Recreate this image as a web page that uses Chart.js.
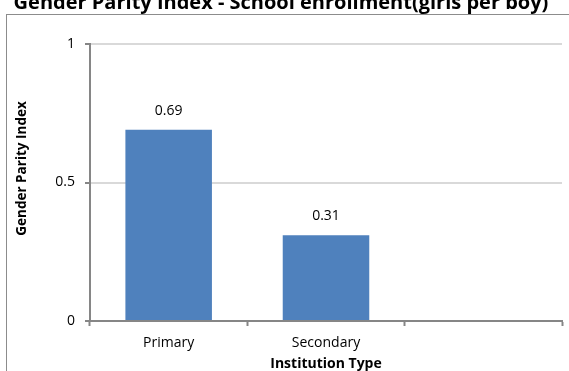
<!DOCTYPE html>
<html>
<head>
<meta charset="utf-8">
<script src="https://cdn.jsdelivr.net/npm/chart.js@4.4.0/dist/chart.umd.min.js"></script>
<style>
  html, body { margin: 0; padding: 0; background: #fff; overflow: hidden; }
  #wrap { position: relative; width: 569px; height: 371px; overflow: hidden; }
  #frame { position: absolute; left: 6px; top: 14px; width: 600px; height: 400px;
           border: 1px solid #8c8c8c; box-sizing: border-box; }
  #holder { position: absolute; left: 0; top: -12px; width: 569px; height: 383px; }
</style>
</head>
<body>
<div id="wrap">
  <div id="frame"></div>
  <div id="holder"><canvas id="chart_gpi"></canvas></div>
</div>
<script>
var categories = ['Primary', 'Secondary', ''];
var gpiValues = [0.69, 0.31, null];
var yTicks = [0, 0.5, 1];

var axisGrey = '#868686';

// value labels above each bar
var barLabels = {
    id: 'barLabels',
    afterDatasetsDraw: function (chart) {
        var ctx = chart.ctx;
        var meta = chart.getDatasetMeta(0);
        ctx.save();
        ctx.font = '14px "Open Sans"';
        ctx.fillStyle = '#000';
        ctx.textAlign = 'center';
        ctx.textBaseline = 'middle';
        meta.data.forEach(function (bar, i) {
            var v = gpiValues[i];
            if (v === null) return;
            ctx.fillText(v.toFixed(2), bar.x, bar.y - 19);
        });
        ctx.restore();
    }
};

var ctx = document.getElementById('chart_gpi').getContext('2d');
var chart = new Chart(ctx, {
    type: 'bar',
    data: {
        labels: categories,
        datasets: [{
            data: gpiValues,
            backgroundColor: '#4F81BD',
            categoryPercentage: 0.55,
            barPercentage: 1
        }]
    },
    options: {
        responsive: true,
        maintainAspectRatio: false,
        animation: false,
        layout: { padding: { left: 0, right: 7, top: 0, bottom: 0 } },
        plugins: {
            legend: { display: false },
            tooltip: { enabled: false },
            title: {
                display: true,
                text: 'Gender Parity Index - School enrollment(girls per boy)',
                color: '#000',
                font: { family: 'Open Sans', size: 20, weight: 'bold' },
                padding: { top: 3, bottom: 29 }
            }
        },
        scales: {
            x: {
                offset: true,
                grid: {
                    offset: true,
                    drawOnChartArea: false,
                    drawTicks: true,
                    tickLength: 5,
                    tickColor: axisGrey,
                    tickWidth: 2
                },
                border: { color: axisGrey, width: 2 },
                ticks: {
                    color: '#000',
                    font: { family: 'Open Sans', size: 14 },
                    padding: 9,
                    maxRotation: 0
                },
                title: {
                    display: true,
                    text: 'Institution Type',
                    color: '#000',
                    font: { family: 'Open Sans', size: 14, weight: 'bold', lineHeight: 1 },
                    padding: { top: 0, bottom: 0 }
                },
                afterFit: function (scale) { scale.height = 50; }
            },
            y: {
                min: 0,
                max: 1,
                afterBuildTicks: function (scale) {
                    scale.ticks = yTicks.map(function (v) { return { value: v }; });
                },
                grid: {
                    color: '#D9D9D9',
                    lineWidth: 2,
                    drawTicks: true,
                    tickLength: 5,
                    tickColor: axisGrey,
                    tickWidth: 2
                },
                border: { color: axisGrey, width: 2 },
                ticks: {
                    color: '#000',
                    font: { family: 'Open Sans', size: 14 },
                    padding: 10,
                    callback: function (v) { return String(v); }
                },
                title: {
                    display: true,
                    // leading spaces nudge the rotated title upward like the original
                    text: '        Gender Parity Index',
                    color: '#000',
                    font: { family: 'Open Sans', size: 13.5, weight: 'bold', lineHeight: 1 },
                    padding: { top: 15, bottom: 0 }
                },
                afterFit: function (scale) { scale.width = 90; }
            }
        }
    },
    plugins: [barLabels]
});
</script>
</body>
</html>
